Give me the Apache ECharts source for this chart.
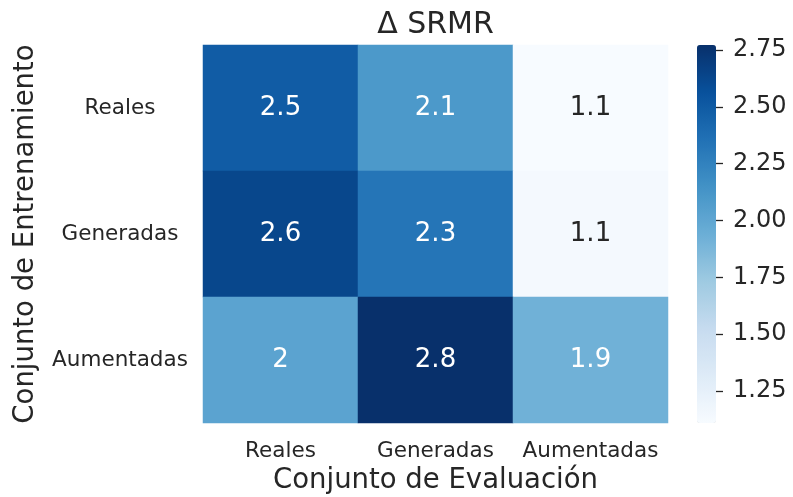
<!DOCTYPE html>
<html>
<head>
<meta charset="utf-8">
<script src="https://cdn.jsdelivr.net/npm/echarts@6/dist/echarts.min.js"></script>
<style>
  html, body { margin: 0; padding: 0; background: #ffffff; }
  #chart { width: 793px; height: 497px; }
</style>
</head>
<body>
<div id="chart"></div>
<script>
// Evaluation sets (columns) and training sets (rows)
const evalSets = ['Reales', 'Generadas', 'Aumentadas'];
const trainSets = ['Reales', 'Generadas', 'Aumentadas'];

// ΔSRMR per training set, one value per evaluation set
const trainReales = [2.49, 2.10, 1.11];
const trainGeneradas = [2.63, 2.33, 1.13];
const trainAumentadas = [2.02, 2.77, 1.92];

// Colour bar range and its tick labels
const scaleMin = 1.109;
const scaleMax = 2.772;
const barTicks = [1.25, 1.50, 1.75, 2.00, 2.25, 2.50, 2.75];

// matplotlib "Blues"
const blues = ['#f7fbff', '#deebf7', '#c6dbef', '#9ecae1', '#6baed6',
               '#4292c6', '#2171b5', '#08519c', '#08306b'];

const FONT = '"DejaVu Sans", sans-serif';
const INK = '#262626';

function hexToRgb(h) {
  return [parseInt(h.slice(1, 3), 16), parseInt(h.slice(3, 5), 16), parseInt(h.slice(5, 7), 16)];
}
function colourAt(v) {
  let t = (v - scaleMin) / (scaleMax - scaleMin);
  t = Math.max(0, Math.min(1, t));
  const p = t * (blues.length - 1);
  const i = Math.min(blues.length - 2, Math.floor(p));
  const f = p - i;
  const a = hexToRgb(blues[i]), b = hexToRgb(blues[i + 1]);
  return a.map((c, k) => c + (b[k] - c) * f);
}
function luminance(rgb) {
  const lin = rgb.map(c => {
    c /= 255;
    return c <= 0.03928 ? c / 12.92 : Math.pow((c + 0.055) / 1.055, 2.4);
  });
  return 0.2126 * lin[0] + 0.7152 * lin[1] + 0.0722 * lin[2];
}
// two significant digits, trailing zeros dropped
function fmt(v) { return String(Number(v.toPrecision(2))); }

const rows = [trainReales, trainGeneradas, trainAumentadas];
const cells = [];
rows.forEach((vals, r) => {
  vals.forEach((v, c) => {
    cells.push({
      value: [c, r, v],
      label: { color: luminance(colourAt(v)) > 0.408 ? INK : '#ffffff' }
    });
  });
});

const chart = echarts.init(document.getElementById('chart'), null, { renderer: 'canvas' });

chart.setOption({
  backgroundColor: '#ffffff',
  animation: false,
  textStyle: { fontFamily: FONT },
  graphic: [{
    type: 'text',
    x: 435.5, y: 25,
    style: {
      text: 'Δ SRMR',
      font: '30px ' + FONT,
      fill: INK,
      align: 'center',
      verticalAlign: 'middle'
    }
  }],
  grid: [
    { left: 203, top: 45, width: 465, height: 378, containLabel: false, outerBoundsMode: 'none' },
    { left: 697, top: 45, width: 19, height: 378, containLabel: false, outerBoundsMode: 'none' }
  ],
  xAxis: [{
    gridIndex: 0,
    type: 'category',
    data: evalSets,
    name: 'Conjunto de Evaluación',
    nameLocation: 'middle',
    nameGap: 42,
    nameTextStyle: { fontSize: 27.5, color: INK, fontFamily: FONT },
    axisLine: { show: false },
    axisTick: { show: false },
    splitLine: { show: false },
    axisLabel: { interval: 0, hideOverlap: false, fontSize: 21.5, color: INK, fontFamily: FONT, margin: 17 }
  }, {
    gridIndex: 1,
    type: 'category',
    data: [''],
    show: false
  }],
  yAxis: [{
    gridIndex: 0,
    type: 'category',
    data: trainSets,
    inverse: true,
    name: 'Conjunto de Entrenamiento',
    nameLocation: 'middle',
    nameGap: 163,
    nameTextStyle: { fontSize: 27.5, color: INK, fontFamily: FONT },
    axisLine: { show: false },
    axisTick: { show: false },
    splitLine: { show: false },
    axisLabel: { interval: 0, fontSize: 21.5, color: INK, fontFamily: FONT, align: 'center', margin: 83 }
  }, {
    gridIndex: 1,
    type: 'value',
    position: 'right',
    min: scaleMin,
    max: scaleMax,
    axisLine: { show: false },
    splitLine: { show: false },
    axisTick: {
      show: true, length: 7, customValues: barTicks,
      lineStyle: { color: INK, width: 1.3 }
    },
    axisLabel: {
      show: true, customValues: barTicks, margin: 17,
      fontSize: 24, color: INK, fontFamily: FONT,
      formatter: v => v.toFixed(2)
    }
  }],
  visualMap: {
    type: 'continuous',
    seriesIndex: 0,
    min: scaleMin,
    max: scaleMax,
    calculable: false,
    show: true,
    orient: 'vertical',
    left: 697,
    top: 45,
    itemWidth: 19,
    itemHeight: 378,
    padding: 0,
    text: null,
    showLabel: false,
    inRange: { color: blues }
  },
  series: [{
    type: 'heatmap',
    xAxisIndex: 0,
    yAxisIndex: 0,
    data: cells,
    label: {
      show: true,
      fontSize: 26,
      fontFamily: FONT,
      formatter: p => fmt(p.value[2])
    },
    itemStyle: { borderWidth: 0 },
    emphasis: { disabled: true }
  }]
});
</script>
</body>
</html>
